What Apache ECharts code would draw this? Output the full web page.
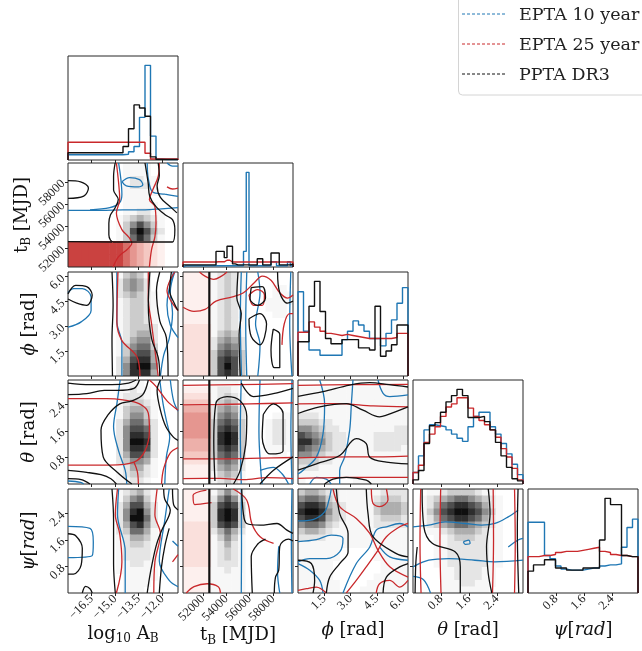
<!DOCTYPE html>
<html>
<head>
<meta charset="utf-8">
<script src="https://cdn.jsdelivr.net/npm/echarts@6/dist/echarts.min.js"></script>
<style>html,body{margin:0;padding:0;background:#fff}#chart{width:642px;height:651px}</style>
</head>
<body>
<div id="chart"></div>
<script>
// ---- parameters ----
const paramKeys = ['logA', 'tB', 'phi', 'theta', 'psi'];
const rangeLogA = [-18, -11];
const rangeTB = [50300, 59700];
const rangePhi = [0, 6.2832];
const rangeTheta = [0, 3.1416];
const rangePsi = [0, 3.1416];
const ticksLogA = [-16.5, -15.0, -13.5, -12.0];
const ticksTB = [52000, 54000, 56000, 58000];
const ticksPhi = [1.5, 3.0, 4.5, 6.0];
const ticksTheta = [0.8, 1.6, 2.4];
const ticksPsi = [0.8, 1.6, 2.4];

const datasetNames = ['EPTA 10 year', 'EPTA 25 year', 'PPTA DR3'];
const datasetColors = ['#1f77b4', '#c9282b', '#111111'];

// ---- 1D marginal histograms (normalised bin heights) ----
const histLogA = {
  epta10: [0.05,0.05,0.05,0.05,0.05,0.05,0.05,0.05,0.05,0.05,0.055,0.08,0.13,0.41,0.91,0.23,0.01,0.005,0.005,0.005],
  epta25: [0.17,0.17,0.17,0.17,0.17,0.17,0.17,0.17,0.17,0.17,0.17,0.17,0.17,0.17,0.065,0.01,0.01,0.01,0.01,0.01],
  ppta:   [0.07,0.07,0.07,0.07,0.07,0.07,0.07,0.07,0.07,0.07,0.13,0.30,0.53,0.50,0.42,0.03,0.006,0.006,0.006,0.006]
};
const histTB = {
  epta10: [0.012,0.012,0.012,0.012,0.012,0.012,0.012,0.012,0.012,0.012,0.012,0.012,0.012,0.012,0.012,0.012,0.012,0.012,0.012,0.012,
           0.012,0.012,0.15,0.91,0.012,0.012,0.012,0.012,0.012,0.012,0.012,0.012,0.05,0.05,0.012,0.012,0.012,0.012,0.05,0.012],
  epta25: [0.048,0.048,0.048,0.048,0.048,0.048,0.048,0.048,0.048,0.048,0.048,0.048,0.05,0.05,0.05,0.065,0.065,0.048,0.048,0.048,
           0.048,0.048,0.048,0.048,0.048,0.048,0.048,0.048,0.048,0.048,0.048,0.048,0.048,0.048,0.048,0.048,0.048,0.048,0.048,0.048],
  ppta:   [0.02,0.02,0.02,0.02,0.02,0.02,0.02,0.02,0.02,0.02,0.02,0.02,0.15,0.15,0.15,0.09,0.2,0.2,0.03,0.02,
           0.02,0.02,0.02,0.02,0.02,0.02,0.02,0.08,0.08,0.02,0.02,0.02,0.135,0.135,0.135,0.02,0.02,0.02,0.02,0.03]
};
const histPhi = {
  epta10: [0.81,0.43,0.25,0.25,0.20,0.20,0.20,0.20,0.35,0.43,0.53,0.49,0.43,0.36,0.36,0.29,0.41,0.54,0.70,0.85],
  epta25: [0.42,0.42,0.52,0.47,0.43,0.41,0.40,0.39,0.40,0.39,0.38,0.37,0.36,0.36,0.36,0.36,0.36,0.37,0.41,0.41],
  ppta:   [0.33,0.33,0.67,0.91,0.62,0.36,0.31,0.31,0.35,0.35,0.35,0.27,0.27,0.25,0.67,0.19,0.24,0.30,0.49,0.49]
};
const histTheta = {
  epta10: [0.11,0.27,0.52,0.57,0.56,0.55,0.52,0.48,0.44,0.41,0.55,0.65,0.69,0.69,0.55,0.48,0.39,0.29,0.19,0.09],
  epta25: [0.11,0.18,0.40,0.48,0.55,0.65,0.74,0.77,0.83,0.83,0.73,0.65,0.61,0.57,0.52,0.45,0.34,0.26,0.15,0.04],
  ppta:   [0.04,0.13,0.39,0.56,0.59,0.69,0.79,0.85,0.91,0.85,0.64,0.64,0.65,0.60,0.52,0.40,0.27,0.16,0.05,0.03]
};
const histPsi = {
  epta10: [0.68,0.68,0.68,0.36,0.33,0.26,0.23,0.22,0.22,0.22,0.23,0.24,0.24,0.26,0.27,0.27,0.28,0.44,0.63,0.71],
  epta25: [0.35,0.35,0.36,0.36,0.37,0.39,0.40,0.40,0.40,0.41,0.42,0.43,0.44,0.40,0.39,0.37,0.36,0.36,0.35,0.35],
  ppta:   [0.21,0.27,0.27,0.32,0.32,0.24,0.24,0.22,0.22,0.22,0.24,0.24,0.24,0.51,0.91,0.85,0.85,0.36,0.35,0.35]
};

// ---- 2D densities: 16x16 grids, top row first, levels 0-9 ----
const densityLogA_tB = [
  "0000000011110000","0000000011110000","0000000012211000","0000000012221000",
  "0000000011111000","0000000011110000","0000000011111000","0000000011221100",
  "0000000123432100","0000000135753100","0000000137974200","0000000136863100",
  "0000000000000000","0000000000000000","0000000000000000","0000000000000000"];
const redLogA_tB = [
  "0000000000000000","0000000000000000","0000000000000000","0000000000000000",
  "0000000000000000","0000000000000000","0000000000000000","0000000000000000",
  "0000000000000000","0000000000000000","0000000000000000","0000000000000000",
  "7777777765432100","7777777765432100","7777777765432100","7777777765432100"];
const densityLogA_phi = [
  "0000000134310000","0000000245420000","0000000245420000","0000000234321000",
  "0000000123321000","0000000123321000","0000000123321000","0000000123321000",
  "0000000123332000","0000000123442000","0000000124552000","0000000135663000",
  "0000000136774000","0000000247884000","0000000258995000","0000000258884000"];
const densityLogA_theta = [
  "0000000011100000","0000000112110000","0000000122210000","0000000123321000",
  "0000000134431000","0000000135531000","0000000246642000","0000000257762000",
  "0000000258872000","0000000259982000","0000000258872000","0000000247752000",
  "0000000235541000","0000000124421000","0000000123321000","0000000112210000"];
const densityLogA_psi = [
  "0000000123421000","0000000135631000","0000000247742000","0000000258952000",
  "0000000259962000","0000000247852000","0000000236641000","0000000124431000",
  "0000000123321000","0000000122221000","0000000122221000","0000000112211000",
  "0000000111111000","0000000011111000","0000000011110000","0000000011100000"];
const densityTB_phi = [
  "0000123210000000","0000123210000000","0000123210000110","0000123210000111",
  "0000123210001111","0000123210001110","0000123210000110","0000123210000000",
  "0000123210000000","0000134310000000","0000245420000000","0000256520000000",
  "0000367630000000","0000378730000000","0000379730000000","0000378730000000"];
const redTB_phi = [
  "1111000000000000","1111000000000000","1111000000000000","1111000000000000",
  "1111000000000000","1111000000000000","1111000000000000","1111000000000000",
  "2222000000000000","2222000000000000","2222000000000000","2222000000000000",
  "2222000000000000","2222000000000000","2222000000000000","2222000000000000"];
const densityTB_theta = [
  "0000111100000000","0000122100000000","0000123210000000","0000134310000000",
  "0000245420000000","0000256520000111","0000367630001221","0000378730001221",
  "0000389830001221","0000389830001221","0000378730001111","0000367630000110",
  "0000256520000000","0000245420000000","0000134310000000","0000123210000000"];
const redTB_theta = [
  "0000000000000000","1111000000000000","2222000000000000","3333000000000000",
  "4444000000000000","5555000000000000","5555000000000000","5555000000000000",
  "5555000000000000","4444000000000000","4444000000000000","3333000000000000",
  "2222000000000000","1111000000000000","1111000000000000","0000000000000000"];
const densityTB_psi = [
  "0000135310000000","0000257520000000","0000378730000000","0000389830000000",
  "0000389830000000","0000378730000000","0000246420000000","0000135310000000",
  "0000124210000000","0000123210000000","0000123210000000","0000122210000000",
  "0000112110000000","0000111110000000","0000111110000000","0000111110000000"];
const redTB_psi = [
  "1111000000000000","1111000000000000","1111000000000000","1111000000000000",
  "1111000000000000","2222000000000000","2222000000000000","2222000000000000",
  "2222000000000000","2222000000000000","2222000000000000","2222000000000000",
  "1111000000000000","1111000000000000","1111000000000000","1111000000000000"];
const densityPhi_theta = [
  "0000000000000000","1111111111111111","1111111111111111","1111111111111111",
  "1111111111111111","2221111111111111","3332211111111111","5543221111111122",
  "7654322111122222","8865322111122222","7654322111122221","5543221111111111",
  "3332211111111111","2221111111111111","1111111111111111","1000000011111111"];
const densityPhi_psi = [
  "3443221111112222","5665321111123332","7887432111134443","8998532111134443",
  "7887432111123332","5665321111122222","3443211111111111","2222111111111111",
  "1111111111111111","1111110000011111","1111110000011111","1111100000001111",
  "1111100000001111","1111100000011111","1111110000111111","1111110001111111"];
const densityTheta_psi = [
  "0011233332110000","0123456654321000","0124678876421000","0135789987531000",
  "0124678876421000","0123456654321000","0011234443211000","0001123332211000",
  "0001122222211000","0001122222211000","0001122222211000","0001122222211000",
  "0000112222110000","0000112222110000","0000111221110000","0000111111100000"];

// ---- credible-region contours (data coordinates) ----
const contoursLogA_tB = {
  blue: [
    [[-18,55420],[-15.9,55420],[-14.5,55470],[-13.1,55470],[-12.05,55560],[-11,55660]],
    [[-14.57,58010],[-14.08,58380],[-13.45,58200],[-13.24,57730],[-13.52,57540],[-14.29,57630],[-14.57,58010]],
    [[-14.78,59700],[-14.64,58290],[-14.57,56880],[-14.71,56130],[-15.34,55660],[-16.6,55470]],
    [[-12.96,59700],[-12.89,58290],[-12.61,57070],[-11.84,56880],[-11,56690]],
    [[-11.7,59700],[-11.35,59420],[-11,59420]]
  ],
  red: [
    [[-14.92,59700],[-14.78,57910],[-14.71,56410],[-14.92,55190],[-14.57,53680],[-14.15,53030],[-13.94,52460],[-14.22,51900],[-14.78,51240],[-15.13,50300]],
    [[-12.19,59700],[-12.26,58480],[-12.61,57260],[-12.82,56410],[-12.47,55750],[-12.4,54250],[-12.47,53030],[-12.68,51900],[-12.82,50300]],
    [[-11.7,57540],[-11.35,57350],[-11,57440]]
  ],
  black: [
    [[-18,58100],[-17.2,58000],[-16.7,57450],[-17.0,56700],[-18,56500]],
    [[-15.0,59700],[-15.1,58480],[-15.1,57260],[-14.8,56410],[-15.0,55660],[-15.3,55000],[-15.4,54250],[-15.4,53210],[-15.3,52740],[-15.1,52560],[-11.35,52560],[-11.2,53680],[-11.35,54580],[-11.8,55000],[-12.4,55750],[-12.8,56690],[-12.9,57910],[-13.1,59700]],
    [[-18,52600],[-15.2,52560]],
    [[-12.26,59700],[-12.19,58570],[-12.33,57630],[-12.12,56600],[-11.49,55750],[-11.07,55190]]
  ]
};
const contoursLogA_phi = {
  blue: [
    [[-18,2.95],[-17.16,3.27],[-16.53,3.96],[-16.53,4.78],[-17.09,5.28],[-17.65,5.28],[-18,5.03]],
    [[-14.89,6.2832],[-14.89,3.27],[-14.57,1.95],[-14.57,0]],
    [[-11.28,6.2832],[-11.7,4.27],[-11.49,3.08],[-11,2.32]],
    [[-12.12,0],[-11.91,1.26],[-11.56,2.26],[-11.35,3.77],[-11.49,5.09],[-11.21,6.2832]]
  ],
  red: [
    [[-14.82,6.2832],[-14.89,3.27],[-14.57,2.14],[-13.63,1.19],[-13.42,0]],
    [[-12.89,6.2832],[-12.89,4.71],[-12.68,3.14],[-12.47,1.57],[-12.26,0]],
    [[-11.21,6.2832],[-11.7,5.15],[-11,3.96]]
  ],
  black: [
    [[-18,4.96],[-17.51,5.47],[-16.81,5.40],[-16.46,4.90],[-16.81,4.27],[-17.44,4.40],[-18,4.65]],
    [[-15.2,6.2832],[-15.13,4.27],[-15.2,2.26],[-15.17,0]],
    [[-12.79,6.2832],[-12.89,4.27],[-12.68,2.26],[-12.26,1.13],[-12.16,0]],
    [[-12.16,6.2832],[-12.37,5.15],[-12.16,3.33],[-11.74,2.32],[-11.63,0]],
    [[-11.42,6.2832],[-11.53,5.15],[-11.21,4.34],[-11,3.96]]
  ]
};
const contoursLogA_theta = {
  blue: [
    [[-14.68,3.1416],[-14.89,2.42],[-15.1,1.73],[-14.78,1.0],[-14.36,0.41],[-14.26,0]],
    [[-12.16,3.1416],[-11.95,2.42],[-11.74,1.92],[-11.53,1.41],[-11.74,0.82],[-11.84,0]],
    [[-18,0.09],[-17.2,0.05],[-17.0,0]],
    [[-11.49,3.1416],[-11.28,2.51],[-11,2.2]]
  ],
  red: [
    [[-18,2.58],[-15.55,2.58],[-14.5,2.54],[-13.45,2.42],[-12.89,2.14],[-12.82,1.63],[-13.1,1.0],[-13.8,0.66],[-15.34,0.57],[-18,0.57]],
    [[-12.82,3.1416],[-12.4,2.95],[-11.7,2.51],[-11,2.23]],
    [[-13.52,0],[-13.59,0.38],[-13.8,0.66]],
    [[-12.05,0],[-11.91,0.47],[-11.49,0.94],[-11,1.1]]
  ],
  black: [
    [[-13.94,0],[-14.85,0.35],[-15.76,0.82],[-15.9,1.63],[-15.48,2.07],[-14.71,2.42],[-13.94,2.51],[-13.24,2.70],[-12.89,3.1416]],
    [[-18,3.05],[-16.6,3.0],[-15.2,3.0],[-14.15,3.05],[-13.66,3.1416]],
    [[-18,2.70],[-16.81,2.73],[-15.69,2.83],[-14.85,2.83],[-13.8,2.89],[-13.45,3.1416]],
    [[-12.12,3.1416],[-12.33,2.83],[-12.12,2.23],[-11.77,1.73],[-11.28,1.41],[-11,1.32]],
    [[-18,0.41],[-16.81,0.35],[-15.9,0.28],[-15.27,0.16],[-14.92,0]],
    [[-18,0.16],[-17.16,0.13],[-16.6,0]]
  ]
};
const contoursLogA_psi = {
  blue: [
    [[-18,2.01],[-16.6,1.95],[-16.39,1.54],[-16.46,1.13],[-18,1.07]],
    [[-14.78,3.1416],[-14.85,2.36],[-14.36,1.26],[-14.36,0]],
    [[-11.56,3.1416],[-11.84,2.2],[-12.19,0.97],[-11.56,0.38],[-11,0.19]],
    [[-11.35,1.57],[-11,1.41]]
  ],
  red: [
    [[-14.85,3.1416],[-14.99,2.36],[-14.71,1.79],[-14.57,0.94],[-14.92,0]],
    [[-12.33,3.1416],[-12.47,2.36],[-12.12,1.79],[-12.47,0.94],[-12.54,0]],
    [[-11.35,0.94],[-11,1.16]]
  ],
  black: [
    [[-15.2,3.1416],[-15.1,2.2],[-15.1,0.88],[-14.99,0]],
    [[-18,1.79],[-17.51,1.73],[-17.09,1.35],[-17.16,0.85],[-17.65,0.57],[-18,0.57]],
    [[-17.09,0],[-16.88,0.2],[-16.6,0.13],[-16.46,0]],
    [[-11.91,3.1416],[-11.84,2.83],[-11.49,2.51],[-12.05,1.88],[-12.4,1.41],[-12.75,0.63],[-12.96,0]],
    [[-11.56,1.95],[-11.84,1.41],[-12.05,0.79],[-12.19,0]],
    [[-11.35,3.1416],[-11.28,2.67],[-11,2.51]]
  ]
};
const contoursTB_phi = {
  blue: [
    [[55280,6.2832],[55200,3.5],[55300,0]],
    [[55750,6.2832],[55660,3.14],[55750,0]],
    [[56690,6.2832],[56880,5.03],[56500,3.14],[56880,1.88],[56690,0]],
    [[59510,6.2832],[59420,3.14],[59610,0]]
  ],
  red: [
    [[50300,4.15],[51240,3.9],[52180,4.02],[53120,4.52],[54530,4.78],[55470,5.03],[56410,5.65],[57070,6.03],[57820,5.78],[58570,5.03],[59230,4.71],[59700,4.9]],
    [[55940,4.9],[56690,5.22],[57260,4.9],[57070,4.27],[56320,4.27],[55940,4.9]],
    [[51710,6.2832],[52180,6.03],[52930,5.84],[53590,6.03],[54060,6.2832]],
    [[58760,1.88],[58950,3.14],[59420,3.77],[59700,3.77]]
  ],
  black: [
    [[52550,6.2832],[52550,0]],
    [[55000,6.2832],[54900,4.71],[55280,3.77],[55090,2.51],[55190,0]],
    [[56130,5.34],[57070,5.40],[57350,4.71],[56690,4.27],[56030,4.65],[56130,5.34]],
    [[55940,3.46],[56880,3.77],[57440,3.14],[56880,1.88],[56130,2.39],[55940,3.46]],
    [[58010,2.83],[58570,2.51],[58570,0.5],[58100,0.5],[57820,1.57],[58010,2.83]],
    [[58380,6.2832],[58570,5.03],[59230,4.4],[59700,4.52]]
  ]
};
const contoursTB_theta = {
  blue: [
    [[55280,3.1416],[55200,1.6],[55280,0]],
    [[56880,3.1416],[56790,1.57],[56970,0.31],[57070,0]],
    [[59610,3.1416],[59520,1.6],[59610,0]],
    [[56880,0.41],[58010,0.5],[58760,0.31],[59320,0]]
  ],
  red: [
    [[50300,2.98],[55000,3.0],[59700,3.03]],
    [[50300,2.39],[53000,2.4],[56000,2.42],[59700,2.45]],
    [[50300,0.76],[54000,0.76],[57000,0.78],[59700,0.8]],
    [[50300,0.16],[53500,0.17],[55500,0.13],[57500,0.19],[59700,0.16]]
  ],
  black: [
    [[52550,3.1416],[52550,0]],
    [[53030,0.09],[52930,1.26],[53120,2.45],[54060,2.64],[55190,2.51],[55750,2.04],[55660,1.19],[55190,0.41],[54620,0]],
    [[57160,2.10],[58010,2.42],[58850,2.14],[58850,1.0],[57730,0.91],[57070,1.41],[57160,2.10]],
    [[55280,3.05],[56320,2.64],[58010,2.73],[59700,2.89]],
    [[56880,0],[58010,0.41],[59700,0.82]]
  ]
};
const contoursTB_psi = {
  blue: [
    [[55280,3.1416],[55300,1.5],[55280,0]],
    [[58480,1.41],[58380,0.63],[58570,0]],
    [[59610,3.1416],[59560,1.5],[59610,0]]
  ],
  red: [
    [[52300,3.11],[51160,2.95],[51300,2.67],[52740,2.73]],
    [[54600,3.1416],[55740,2.81],[56180,2.10],[56890,1.70],[58040,1.50]],
    [[50580,0],[51240,0.19],[52370,0.28],[53310,0.19],[53500,0]]
  ],
  black: [
    [[52550,3.1416],[52550,0]],
    [[55320,3.1416],[55460,2.40],[55740,2.10],[56890,2.05],[58330,2.10],[59180,1.90],[59700,1.80]],
    [[58100,0],[58200,0.47],[58480,0.69],[58570,1.41],[59320,1.63],[59700,1.57]],
    [[56220,0],[56130,1.1],[56690,1.48],[57350,1.63]]
  ]
};
const contoursPhi_theta = {
  blue: [
    [[1.24,3.1416],[1.52,2.43],[1.43,1.52],[1.05,0.81],[0.28,0.41],[0,0.30]],
    [[3.14,3.1416],[3.05,2.43],[2.95,1.62],[2.66,0.81],[2.38,0.41],[2.38,0]],
    [[0.67,0],[1.05,0.2],[1.62,0.15],[1.9,0]],
    [[4.57,3.1416],[4.86,2.74],[5.24,2.64],[6.2832,2.69]]
  ],
  red: [
    [[0,2.98],[3.0,3.0],[6.2832,3.01]],
    [[0,2.42],[2.3,2.43],[4.3,2.36],[6.2832,2.33]],
    [[0,0.79],[2.9,0.82],[4.9,0.82],[6.2832,0.84]],
    [[0,0.17],[3.0,0.2],[6.2832,0.2]]
  ],
  black: [
    [[0,2.65],[1.43,2.79],[2.95,2.99],[4.1,3.06],[5.2,3.0],[6.2832,2.93]],
    [[0,2.13],[1.24,2.33],[2.76,2.43],[3.71,2.23],[4.66,2.03],[5.05,2.08],[6.2832,2.33]],
    [[0,0.42],[1.05,0.61],[2.38,0.86],[3.33,1.37],[3.90,1.22],[4.10,0.81],[5.05,0.66],[6.2832,0.61]],
    [[1.52,0],[2.0,0.15],[2.76,0.2],[3.90,0.12],[4.19,0]]
  ]
};
const contoursPhi_psi = {
  blue: [
    [[0,2.18],[0.86,2.22],[1.52,2.45],[1.77,2.81],[1.9,3.1416]],
    [[0,1.55],[1.05,1.61],[1.9,1.75],[2.57,1.65],[2.38,1.24],[1.62,1.04],[0.67,1.04],[0,0.94]],
    [[0,0.89],[0.67,0.69],[1.24,0.38],[1.43,0]],
    [[2.57,0],[3.33,0.89],[4.10,1.39],[4.47,1.90],[5.05,2.0],[5.81,2.10],[6.2832,2.0]],
    [[4.66,1.39],[5.24,1.09],[6.2832,0.99]]
  ],
  red: [
    [[2.0,3.1416],[2.38,2.61],[3.33,2.25],[4.10,1.80],[4.57,1.29],[5.24,0.79],[6.2832,0.48]],
    [[4.57,1.29],[3.90,0.79],[3.33,0.38],[2.76,0]],
    [[4.57,1.29],[5.05,1.70],[5.81,2.0],[6.2832,2.10]],
    [[4.19,3.1416],[4.28,2.71],[4.66,2.61],[5.14,2.81],[5.05,3.1416]],
    [[0,0.08],[0.48,0.13],[1.05,0.18],[1.62,0]],
    [[4.47,0],[4.66,0.28],[5.24,0.38],[5.81,0.18],[6.2832,0.38]]
  ],
  black: [
    [[2.19,3.1416],[2.38,2.40],[2.86,1.80],[2.86,1.24],[2.38,0.89],[1.81,0.48],[1.62,0]],
    [[3.90,3.1416],[4.0,2.40],[4.28,1.70],[5.62,1.19],[6.2832,1.09]],
    [[0,0.99],[0.76,0.89],[0.95,0.38],[0.86,0]],
    [[4.86,0],[5.05,0.48],[5.81,0.79],[6.2832,0.89]]
  ]
};
const contoursTheta_psi = {
  blue: [
    [[0,2.0],[0.45,2.05],[0.92,2.15],[1.49,2.10],[1.96,2.05],[2.34,2.10],[2.72,2.30],[3.0,2.50]],
    [[0,0.79],[0.45,0.99],[1.02,1.04],[1.77,0.99],[2.34,0.94],[3.1416,0.99]],
    [[1.44,1.55],[1.59,1.60],[1.63,1.50],[1.49,1.47],[1.44,1.55]],
    [[2.72,1.39],[3.0,1.60],[3.1416,1.65]],
    [[0,0.5],[0.3,0.4],[0.5,0]]
  ],
  red: [
    [[0.22,3.1416],[0.2,1.5],[0.23,0]],
    [[0.79,3.1416],[0.77,1.6],[0.8,0]],
    [[2.29,3.1416],[2.3,1.6],[2.27,0]],
    [[2.9,3.1416],[2.92,1.5],[2.9,0]]
  ],
  black: [
    [[0.26,3.1416],[0.31,2.0],[0.55,1.50],[1.21,1.24],[1.35,0.79],[1.35,0]],
    [[0.12,1.39],[0.08,0.89],[0.06,0]],
    [[2.15,3.1416],[2.2,2.40],[2.1,1.39],[2.15,0.58],[2.25,0]],
    [[3.0,3.1416],[2.98,1.9],[3.02,0]]
  ]
};

// ---- layout ----
const colLeft = [68, 183, 298, 413, 528];
const rowTop = [56, 163, 272, 380, 489];
const cellW = 110, cellH = 104;
const SERIF = "'DejaVu Serif', serif";
const TICKFONT = "'Liberation Serif', 'DejaVu Serif', serif";

const ranges = {logA: rangeLogA, tB: rangeTB, phi: rangePhi, theta: rangeTheta, psi: rangePsi};
const ticks = {logA: ticksLogA, tB: ticksTB, phi: ticksPhi, theta: ticksTheta, psi: ticksPsi};
const hists = {logA: histLogA, tB: histTB, phi: histPhi, theta: histTheta, psi: histPsi};
const titles = {
  logA: '{m|log}{s|10}{m| A}{s|B}',
  tB: '{m|t}{s|B}{m| [MJD]}',
  phi: '{i|\u03d5}{m| [rad]}',
  theta: '{i|\u03b8}{m| [rad]}',
  psi: '{i|\u03c8}{m|[}{i|rad}{m|]}'
};
const panels2d = {
  'tB|logA': {gray: densityLogA_tB, red: redLogA_tB, lines: contoursLogA_tB},
  'phi|logA': {gray: densityLogA_phi, lines: contoursLogA_phi},
  'theta|logA': {gray: densityLogA_theta, lines: contoursLogA_theta},
  'psi|logA': {gray: densityLogA_psi, lines: contoursLogA_psi},
  'phi|tB': {gray: densityTB_phi, red: redTB_phi, lines: contoursTB_phi},
  'theta|tB': {gray: densityTB_theta, red: redTB_theta, lines: contoursTB_theta},
  'psi|tB': {gray: densityTB_psi, red: redTB_psi, lines: contoursTB_psi},
  'theta|phi': {gray: densityPhi_theta, lines: contoursPhi_theta},
  'psi|phi': {gray: densityPhi_psi, lines: contoursPhi_psi},
  'psi|theta': {gray: densityTheta_psi, lines: contoursTheta_psi}
};

const grayLevels = [255, 247, 229, 204, 174, 142, 110, 78, 46, 15];
const redLevels = [[255,255,255],[253,240,238],[250,224,220],[244,200,194],[237,176,170],[229,150,144],[215,110,104],[202,66,64],[178,36,38],[150,16,22]];

function fmtTick(key) {
  return function (v) {
    if (key === 'tB') return String(v);
    const s = Math.abs(v).toFixed(1);
    return v < 0 ? '\u2212' + s : s;
  };
}

function cellsFrom(rows, xr, yr) {
  const ny = rows.length, nx = rows[0].length, out = [];
  for (let r = 0; r < ny; r++) {
    for (let c = 0; c < nx; c++) {
      const v = +rows[r][c];
      if (!v) continue;
      out.push([
        xr[0] + (xr[1] - xr[0]) * c / nx,
        xr[0] + (xr[1] - xr[0]) * (c + 1) / nx,
        yr[1] - (yr[1] - yr[0]) * (r + 1) / ny,
        yr[1] - (yr[1] - yr[0]) * r / ny,
        v
      ]);
    }
  }
  return out;
}

function stepPoints(vals, xr) {
  const n = vals.length, w = (xr[1] - xr[0]) / n;
  const pts = [[xr[0], 0]];
  vals.forEach((v, i) => { pts.push([xr[0] + i * w, v]); pts.push([xr[0] + (i + 1) * w, v]); });
  pts.push([xr[1], 0]);
  return pts;
}

const nameRich = {
  m: {fontFamily: SERIF, fontSize: 18, lineHeight: 22, color: '#111'},
  s: {fontFamily: SERIF, fontSize: 12, lineHeight: 8, verticalAlign: 'bottom', color: '#111'},
  i: {fontFamily: SERIF, fontSize: 18, lineHeight: 22, fontStyle: 'italic', color: '#111'}
};

const grids = [], xAxes = [], yAxes = [], series = [];
let gi = 0;
for (let r = 0; r < 5; r++) {
  for (let c = 0; c <= r; c++) {
    const xk = paramKeys[c], yk = paramKeys[r];
    const diag = r === c;
    grids.push({left: colLeft[c], top: rowTop[r], width: cellW, height: cellH,
      show: true, borderColor: '#262626', borderWidth: 1, backgroundColor: 'transparent'});
    xAxes.push({
      gridIndex: gi, type: 'value', min: ranges[xk][0], max: ranges[xk][1],
      axisLine: {show: false}, splitLine: {show: false},
      axisTick: {show: true, inside: false, length: 3, customValues: ticks[xk], lineStyle: {color: '#262626', width: 1}},
      axisLabel: {show: r === 4, customValues: ticks[xk], rotate: 45, margin: 4, fontFamily: TICKFONT, fontSize: 12.5, color: '#222', formatter: fmtTick(xk)},
      name: r === 4 ? titles[xk] : '', nameLocation: 'middle', nameGap: 26,
      nameTextStyle: {rich: nameRich}
    });
    if (diag) {
      yAxes.push({gridIndex: gi, type: 'value', min: 0, max: 1, show: false});
      const h = hists[xk];
      [h.epta10, h.epta25, h.ppta].forEach((vals, k) => {
        series.push({type: 'line', xAxisIndex: gi, yAxisIndex: gi, data: stepPoints(vals, ranges[xk]),
          symbol: 'none', silent: true, z: 3, lineStyle: {color: datasetColors[k], width: 1.4}});
      });
    } else {
      yAxes.push({
        gridIndex: gi, type: 'value', min: ranges[yk][0], max: ranges[yk][1],
        axisLine: {show: false}, splitLine: {show: false},
        axisTick: {show: true, inside: false, length: 3, customValues: ticks[yk], lineStyle: {color: '#262626', width: 1}},
        axisLabel: {show: c === 0, customValues: ticks[yk], rotate: 45, margin: 5, fontFamily: TICKFONT, fontSize: 12.5, color: '#222', formatter: fmtTick(yk)},
        name: c === 0 ? titles[yk] : '', nameLocation: 'middle', nameRotate: 90, nameGap: 28,
        nameTextStyle: {rich: nameRich}
      });
      const p = panels2d[yk + '|' + xk];
      const layers = [{rows: p.gray, red: false}];
      if (p.red) layers.push({rows: p.red, red: true});
      layers.forEach(layer => {
        series.push({
          type: 'custom', xAxisIndex: gi, yAxisIndex: gi, z: -1, silent: true, clip: true,
          encode: {x: [0, 1], y: [2, 3]},
          data: cellsFrom(layer.rows, ranges[xk], ranges[yk]),
          renderItem: (function (isRed) {
            return function (params, api) {
              const a = api.coord([api.value(0), api.value(3)]);
              const b = api.coord([api.value(1), api.value(2)]);
              const v = api.value(4);
              let fill;
              if (isRed) { const q = redLevels[v]; fill = 'rgb(' + q[0] + ',' + q[1] + ',' + q[2] + ')'; }
              else { const g = grayLevels[v]; fill = 'rgb(' + g + ',' + g + ',' + g + ')'; }
              return {type: 'rect', z2: isRed ? 2 : 1,
                shape: {x: a[0], y: a[1], width: b[0] - a[0] + 0.6, height: b[1] - a[1] + 0.6},
                style: {fill: fill}};
            };
          })(layer.red)
        });
      });
      [['blue', 0], ['red', 1], ['black', 2]].forEach(([key, k]) => {
        (p.lines[key] || []).forEach(line => {
          const thick = key === 'black' && line.length === 2 && line[0][0] === line[1][0];
          series.push({type: 'line', xAxisIndex: gi, yAxisIndex: gi, data: line, smooth: 0.35,
            symbol: 'none', silent: true, z: 3,
            lineStyle: {color: datasetColors[k], width: thick ? 2.2 : 1.3}});
        });
      });
    }
    gi++;
  }
}

// legend box drawn in the top-right corner
const legendItems = [];
legendItems.push({type: 'rect', z: 100, shape: {x: 458.5, y: -6, width: 200, height: 101, r: 4},
  style: {fill: 'rgba(255,255,255,0.9)', stroke: '#d4d4d4', lineWidth: 1}});
datasetNames.forEach((name, k) => {
  const y = 15 + 30 * k;
  legendItems.push({type: 'line', z: 101, shape: {x1: 462, y1: y - 1, x2: 506, y2: y - 1},
    style: {stroke: datasetColors[k], lineWidth: 1, lineDash: [3, 2]}});
  legendItems.push({type: 'text', z: 101, style: {text: name, x: 519, y: y, fontFamily: SERIF, fontSize: 17.5,
    fill: '#222', verticalAlign: 'middle', textVerticalAlign: 'middle'}});
});

const chart = echarts.init(document.getElementById('chart'), null, {renderer: 'canvas'});
chart.setOption({
  animation: false,
  backgroundColor: '#ffffff',
  grid: grids,
  xAxis: xAxes,
  yAxis: yAxes,
  series: series,
  graphic: legendItems
});
</script>
</body>
</html>
